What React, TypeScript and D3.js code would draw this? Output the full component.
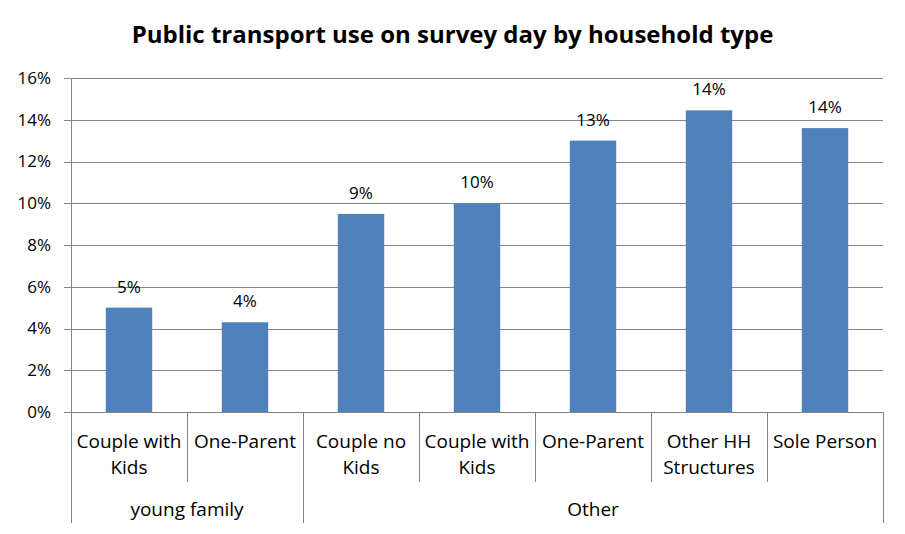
import React, { useEffect, useRef } from 'react';
import * as d3 from 'd3';

// categories (two-line labels as Excel wrapped them)
const categories = [
  ['Couple with', 'Kids'],
  ['One-Parent'],
  ['Couple no', 'Kids'],
  ['Couple with', 'Kids'],
  ['One-Parent'],
  ['Other HH', 'Structures'],
  ['Sole Person'],
];
const groups = ['young family', 'young family', 'Other', 'Other', 'Other', 'Other', 'Other'];
const values = [0.05, 0.043, 0.0949, 0.1, 0.13, 0.1445, 0.136];
const yTicks = [0, 0.02, 0.04, 0.06, 0.08, 0.1, 0.12, 0.14, 0.16];

const App = () => {
  const svgRef = useRef<SVGSVGElement>(null);

  useEffect(() => {
    const width = 905;
    const height = 534;
    const margin = { top: 78, right: 22, bottom: 122, left: 71 };
    const font = '"Open Sans", "Noto Sans", sans-serif';

    const svg = d3.select(svgRef.current)
      .attr('width', width)
      .attr('height', height)
      .style('font-family', font);
    svg.selectAll('*').remove();

    const x = d3.scaleBand<number>()
      .domain(d3.range(values.length))
      .range([margin.left, width - margin.right])
      .paddingInner(0.6)
      .paddingOuter(0.3);

    const y = d3.scaleLinear()
      .domain([0, 0.16])
      .range([height - margin.bottom, margin.top]);

    const y0 = y(0);
    const step = x.step();
    const catLeft = (i: number) => x.range()[0] + i * step;

    // gridlines + tick marks
    svg.append('g')
      .selectAll('line')
      .data(yTicks)
      .enter().append('line')
      .attr('x1', margin.left - 7)
      .attr('x2', width - margin.right)
      .attr('y1', d => Math.round(y(d)) + 0.5)
      .attr('y2', d => Math.round(y(d)) + 0.5)
      .attr('stroke', '#868686')
      .attr('stroke-width', 1);

    // y labels
    svg.append('g')
      .selectAll('text')
      .data(yTicks)
      .enter().append('text')
      .attr('x', 51)
      .attr('y', d => y(d))
      .attr('dy', '0.35em')
      .attr('text-anchor', 'end')
      .style('font-size', '17px')
      .attr('fill', '#000')
      .text(d => d3.format('.0%')(d));

    // y axis line
    svg.append('line')
      .attr('x1', margin.left + 0.5)
      .attr('x2', margin.left + 0.5)
      .attr('y1', margin.top)
      .attr('y2', y0)
      .attr('stroke', '#868686');

    // bars
    svg.append('g')
      .selectAll('rect')
      .data(values)
      .enter().append('rect')
      .attr('x', (d, i) => x(i)!)
      .attr('y', d => y(d))
      .attr('width', x.bandwidth())
      .attr('height', d => y0 - y(d))
      .attr('fill', '#4F81BD');

    // value labels
    svg.append('g')
      .selectAll('text')
      .data(values)
      .enter().append('text')
      .attr('x', (d, i) => x(i)! + x.bandwidth() / 2)
      .attr('y', d => y(d) - 15)
      .attr('text-anchor', 'middle')
      .style('font-size', '17px')
      .attr('fill', '#000')
      .text(d => Math.round(d * 100) + '%');

    // category dividers
    const bounds = d3.range(values.length + 1);
    svg.append('g')
      .selectAll('line')
      .data(bounds)
      .enter().append('line')
      .attr('x1', i => Math.round(catLeft(i)) + 0.5)
      .attr('x2', i => Math.round(catLeft(i)) + 0.5)
      .attr('y1', y0)
      .attr('y2', i => (i === 0 || i === values.length || groups[i] !== groups[i - 1]) ? 523 : 482)
      .attr('stroke', '#868686');

    // category labels
    const cat = svg.append('g')
      .selectAll('text')
      .data(categories)
      .enter().append('text')
      .attr('x', (d, i) => catLeft(i) + step / 2)
      .attr('y', 448)
      .attr('text-anchor', 'middle')
      .style('font-size', '19px')
      .attr('fill', '#000');
    cat.selectAll('tspan')
      .data(d => d)
      .enter().append('tspan')
      .attr('x', function () { return (this.parentNode as SVGTextElement).getAttribute('x'); })
      .attr('dy', (d, i) => i === 0 ? 0 : 26)
      .text(d => d);

    // group labels
    const groupNames = Array.from(new Set(groups));
    svg.append('g')
      .selectAll('text')
      .data(groupNames)
      .enter().append('text')
      .attr('x', g => {
        const first = groups.indexOf(g);
        const last = groups.lastIndexOf(g);
        return (catLeft(first) + catLeft(last + 1)) / 2;
      })
      .attr('y', 516)
      .attr('text-anchor', 'middle')
      .style('font-size', '19px')
      .attr('fill', '#000')
      .text(g => g);

    // title
    svg.append('text')
      .attr('x', width / 2)
      .attr('y', 43)
      .attr('text-anchor', 'middle')
      .style('font-size', '24px')
      .style('font-weight', 'bold')
      .attr('fill', '#000')
      .text('Public transport use on survey day by household type');
  }, []);

  return (
    <svg ref={svgRef} style={{ position: 'absolute', left: 0, top: 0, background: '#fff' }}></svg>
  );
};

export default App;
